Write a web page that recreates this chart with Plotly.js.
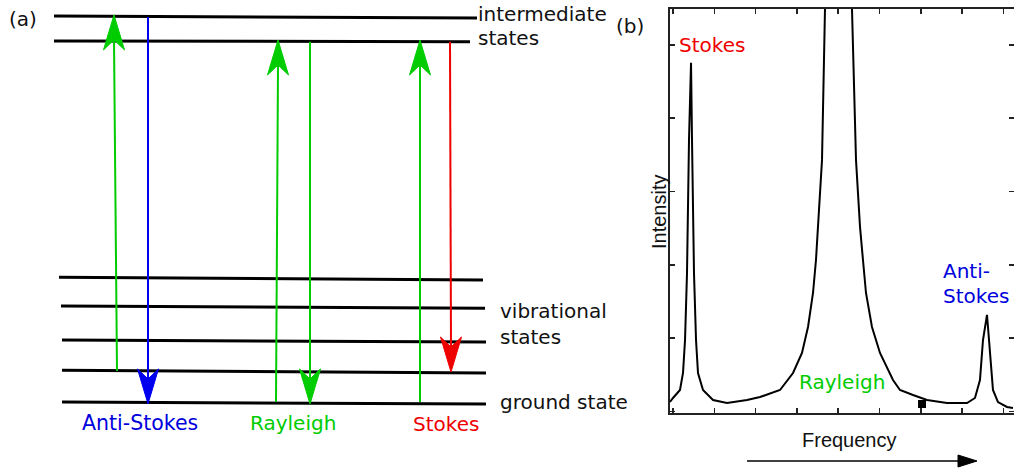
<!DOCTYPE html>
<html><head><meta charset="utf-8">
<script src="https://cdn.plot.ly/plotly-3.0.1.min.js"></script>
<style>html,body{margin:0;padding:0;background:#fff;} #chart{width:1014px;height:471px;}</style>
</head><body><div id="chart"></div>
<script>
// ---------- Panel (a): energy level diagram (energy units, ground state = 0) ----------
const levelNames   = ['ground state', 'v1', 'v2', 'v3', 'v4', 'intermediate 1', 'intermediate 2'];
const levelXStart  = [62, 62, 62, 61, 59, 54, 54];
const levelXEnd    = [486, 486, 486, 485, 483, 470, 477];
const levelEStart  = [0.03, 1.06, 2.03, 3.13, 4.06, 11.68, 12.48];
const levelEEnd    = [-0.03, 0.97, 1.97, 3.06, 3.97, 11.65, 12.42];

// transitions (start -> end)
const transKind = ['excite', 'anti', 'excite', 'rayleigh', 'excite', 'stokes'];
const transX0   = [117, 148, 276, 310, 420, 450];
const transX1   = [114, 148, 278, 310, 420, 451];
const transE0   = [1.03, 12.45, 0.03, 11.65, 0.03, 11.65];
const transE1   = [12.52, -0.03, 11.71, -0.03, 11.71, 1.00];

// ---------- Panel (b): spectrum ----------
const freq = [-0.073, 0.000, 0.169, 0.242, 0.291, 0.339, 0.387, 0.436, 0.460, 0.508, 0.557, 0.605,
  0.726, 0.969, 1.308, 1.792, 2.107, 2.591, 2.906, 3.123, 3.269, 3.390, 3.462, 3.511, 3.559,
  3.608, 3.680, 4.007, 4.334, 4.431, 4.479, 4.528, 4.600, 4.673, 4.818, 5.012, 5.327, 5.496,
  5.811, 6.150, 6.634, 7.119, 7.312, 7.433, 7.506, 7.603, 7.627, 7.700, 7.748, 7.869, 8.087, 8.232];
const intensity = [0.127, 0.182, 0.291, 0.523, 0.973, 1.888, 3.704, 4.755, 3.704, 1.888, 0.973, 0.523,
  0.291, 0.154, 0.113, 0.154, 0.195, 0.291, 0.523, 0.796, 1.151, 1.615, 2.065, 2.516, 2.980,
  3.431, 5.492, 12.0, 5.492, 3.431, 2.980, 2.516, 2.065, 1.615, 1.151, 0.796, 0.427, 0.291,
  0.222, 0.154, 0.113, 0.113, 0.182, 0.427, 0.973, 1.315, 1.151, 0.605, 0.291, 0.127, 0.059, 0.045];
const markFreq = [6.03];
const markInt  = [0.10];
const xTicks = [0, 1, 2, 3, 4, 5, 6, 7, 8];
const yTicks = [0, 1, 2, 3, 4, 5];

// ---------- styles ----------
const kindColor = {excite: '#00cc00', rayleigh: '#00cc00', anti: '#0000ee', stokes: '#ee0000'};
const PXE = 31;                 // pixels per energy unit in panel (a)
const headL = 35 / PXE, headN = 25 / PXE, headHW = 10.5;
const FONT = 'DejaVu Sans, Verdana, sans-serif';

const traces = [];
// levels
const lx = [], ly = [];
levelNames.forEach((n, i) => {
  lx.push(levelXStart[i], levelXEnd[i], null);
  ly.push(levelEStart[i], levelEEnd[i], null);
});
traces.push({type: 'scatter', mode: 'lines', x: lx, y: ly, xaxis: 'x', yaxis: 'y',
  line: {color: '#000', width: 3}, hoverinfo: 'skip', showlegend: false});
// transitions
transKind.forEach((k, i) => {
  const dir = transE1[i] > transE0[i] ? 1 : -1;
  const c = kindColor[k];
  const xt = transX1[i], et = transE1[i];
  traces.push({type: 'scatter', mode: 'lines', x: [transX0[i], xt], y: [transE0[i], et - dir * headN],
    xaxis: 'x', yaxis: 'y', line: {color: c, width: 2}, hoverinfo: 'skip', showlegend: false});
  traces.push({type: 'scatter', mode: 'lines', fill: 'toself', fillcolor: c,
    x: [xt, xt - headHW, xt, xt + headHW, xt],
    y: [et, et - dir * headL, et - dir * headN, et - dir * headL, et],
    xaxis: 'x', yaxis: 'y', line: {color: c, width: 1}, hoverinfo: 'skip', showlegend: false});
});
// frequency arrow under panel (b)
const fy = (403 - 461) / PXE;
traces.push({type: 'scatter', mode: 'lines', x: [747, 960], y: [fy, fy], xaxis: 'x', yaxis: 'y',
  line: {color: '#000', width: 1.5}, hoverinfo: 'skip', showlegend: false});
traces.push({type: 'scatter', mode: 'lines', fill: 'toself', fillcolor: '#000',
  x: [977, 958, 958, 977], y: [fy, fy + 6 / PXE, fy - 6 / PXE, fy], xaxis: 'x', yaxis: 'y',
  line: {color: '#000', width: 1}, hoverinfo: 'skip', showlegend: false});

// spectrum
traces.push({type: 'scatter', mode: 'lines', x: freq, y: intensity, xaxis: 'x2', yaxis: 'y2',
  line: {color: '#000', width: 2}, hoverinfo: 'skip', showlegend: false});
traces.push({type: 'scatter', mode: 'markers', x: markFreq, y: markInt, xaxis: 'x2', yaxis: 'y2',
  marker: {symbol: 'square', size: 8, color: '#000'}, hoverinfo: 'skip', showlegend: false});

const W = 1014, H = 471;
const px = v => v / W, py = v => 1 - v / H;
function lab(text, x, y, color, xanchor, size, family, angle) {
  return {text: text, xref: 'paper', yref: 'paper', x: px(x), y: py(y), showarrow: false,
    xanchor: xanchor || 'center', yanchor: 'middle', textangle: angle || 0,
    font: {family: family || FONT, size: size || 20, color: color || '#111'}};
}
const annotations = [
  lab('(a)', 23, 19),
  lab('intermediate', 476, 14, null, 'left'),
  lab('states', 476, 38, null, 'left'),
  lab('(b)', 630, 26),
  lab('vibrational', 498, 311, null, 'left'),
  lab('states', 498, 337, null, 'left'),
  lab('ground state', 498, 402, null, 'left'),
  lab('Anti-Stokes', 140, 423, '#0000dd', 'center', 20.5),
  lab('Rayleigh', 293, 423, '#00cc00'),
  lab('Stokes', 446, 424, '#ee0000'),
  lab('Stokes', 677, 45, '#ee0000', 'left'),
  lab('Anti-', 941, 271, '#0000dd', 'left'),
  lab('Stokes', 941, 296, '#0000dd', 'left'),
  lab('Rayleigh', 797, 382, '#00cc00', 'left'),
  lab('Intensity', 659, 212, '#111', 'center', 20, 'Liberation Sans, Arial, sans-serif', -90),
  lab('Frequency', 849, 440, '#111', 'center', 20, 'Liberation Sans, Arial, sans-serif')
];

const axB = {showline: true, mirror: 'ticks', linecolor: '#222', linewidth: 2, ticks: 'inside',
  ticklen: 5, tickwidth: 1.5, tickcolor: '#222', tickmode: 'array', showticklabels: false,
  showgrid: false, zeroline: false, fixedrange: true};

const layout = {
  width: W, height: H, margin: {l: 0, r: 0, t: 0, b: 0},
  paper_bgcolor: '#fff', plot_bgcolor: 'rgba(0,0,0,0)', showlegend: false,
  xaxis: {domain: [0, 1], range: [0, W], visible: false, fixedrange: true},
  yaxis: {domain: [0, 1], range: [(403 - H) / PXE, 403 / PXE], visible: false, fixedrange: true},
  xaxis2: Object.assign({}, axB, {domain: [670 / W, 1], range: [-0.073, 8.257], anchor: 'y2', tickvals: xTicks}),
  yaxis2: Object.assign({}, axB, {domain: [1 - 413 / H, 1 - 9 / H], range: [-0.023, 5.49], anchor: 'x2', tickvals: yTicks}),
  annotations: annotations
};
Plotly.newPlot('chart', traces, layout, {staticPlot: true, displayModeBar: false});
</script>
</body></html>
